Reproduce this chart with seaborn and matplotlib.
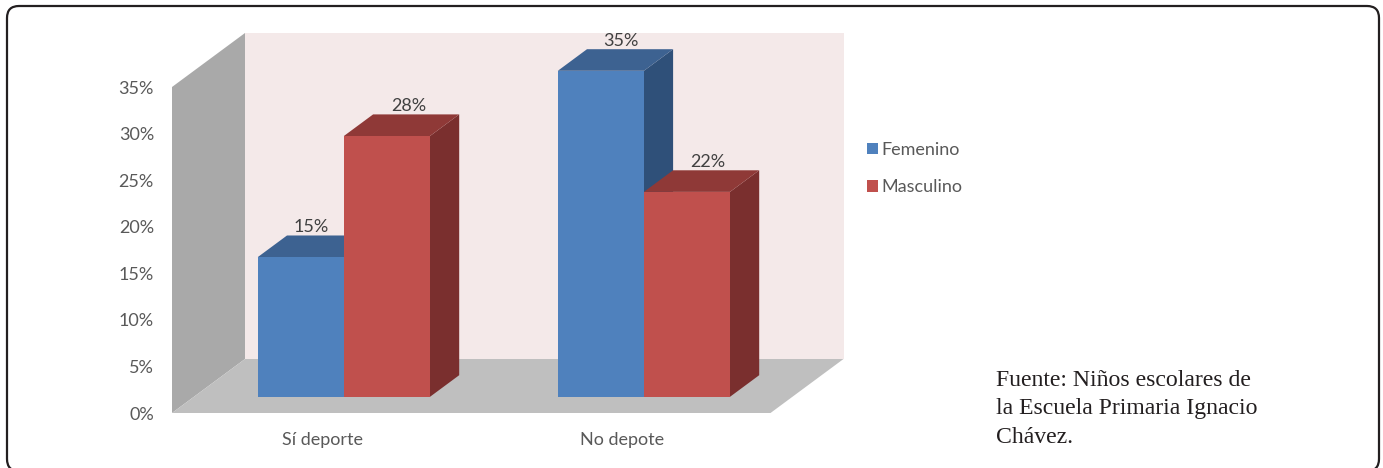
import matplotlib
matplotlib.use("Agg")
import matplotlib.pyplot as plt
from matplotlib.patches import FancyBboxPatch
import pandas as pd
import seaborn as sns

categories = ["Sí deporte", "No depote"]
femenino = [15, 35]
masculino = [28, 22]
y_ticks = [0, 5, 10, 15, 20, 25, 30, 35]
source_note = "Fuente: Niños escolares de\nla Escuela Primaria Ignacio\nChávez."

sns.set_theme(style="white")
plt.rcParams["font.family"] = ["Lato", "DejaVu Sans"]

W, H = 1383, 468
TEXT = "#595959"
FRONT = {"Femenino": "#4F81BD", "Masculino": "#C0504D"}
TOP = {"Femenino": "#3D6291", "Masculino": "#8F3937"}
SIDE = {"Femenino": "#2F5079", "Masculino": "#7A2F2E"}
# the labels were placed by hand in the original, pixels off the bar centre
NUDGE = {"Femenino": [-4, 5], "Masculino": [7, 6]}

df = pd.DataFrame({
    "categoria": categories * 2,
    "sexo": ["Femenino"] * 2 + ["Masculino"] * 2,
    "valor": femenino + masculino,
})

fig = plt.figure(figsize=(W / 100, H / 100), dpi=100)
ax = fig.add_axes([172 / W, (H - 413) / H, 600 / W, 326 / H])

sns.barplot(data=df, x="categoria", y="valor", hue="sexo", palette=FRONT,
            width=0.574, gap=0, saturation=1, ax=ax, zorder=5, linewidth=0)

ax.set_xlim(-0.5, 1.5)
ax.set_ylim(0, 35)
ax.patch.set_visible(False)
sns.despine(ax=ax, left=True, bottom=True)

# depth of the fake 3d box in data units
x0, x1 = ax.get_xlim()
y0, y1 = ax.get_ylim()
dx = 73 / 600 * (x1 - x0)
dy = 54 / 326 * (y1 - y0)
x_end = x1 - 1.5 / 300  # box stops just short of the axes edge

ax.fill([x0, x0 + dx, x0 + dx, x0], [y0, y0 + dy, y1 + dy, y1],
        color="#A9A9A9", lw=0, clip_on=False, zorder=1)
ax.fill([x0 + dx, x_end + dx, x_end + dx, x0 + dx], [y0 + dy, y0 + dy, y1 + dy, y1 + dy],
        color="#F4E9E9", lw=0, clip_on=False, zorder=1)
ax.fill([x0, x_end, x_end + dx, x0 + dx], [y0, y0, y0 + dy, y0 + dy],
        color="#BFBFBF", lw=0, clip_on=False, zorder=1)

# bars sit 30% into the box and are 40% of it deep
off_x, off_y = 0.3 * dx, 0.3 * dy
bar_dx, bar_dy = 0.4 * dx, 0.4 * dy
for z, (name, container) in enumerate(zip(FRONT, ax.containers)):
    for i, bar in enumerate(container):
        bar.set_x(bar.get_x() + off_x)
        bar.set_y(bar.get_y() + off_y)
        bar.set_clip_on(False)
        l, r = bar.get_x(), bar.get_x() + bar.get_width()
        b, t = bar.get_y(), bar.get_y() + bar.get_height()
        ax.fill([r, r + bar_dx, r + bar_dx, r], [b, b + bar_dy, t + bar_dy, t],
                color=SIDE[name], lw=0, clip_on=False, zorder=2 + z)
        ax.fill([l, r, r + bar_dx, l + bar_dx], [t, t, t + bar_dy, t + bar_dy],
                color=TOP[name], lw=0, clip_on=False, zorder=2 + z)
        ax.annotate(f"{bar.get_height():.0f}%", ((l + r + bar_dx) / 2, t + bar_dy),
                    xytext=(NUDGE[name][i], 0), textcoords="offset pixels", ha="center", va="bottom",
                    fontsize=13, color="#404040", zorder=6, annotation_clip=False)

ax.set_yticks(y_ticks, [f"{v}%" for v in y_ticks])
ax.tick_params(axis="y", length=0, pad=13, labelsize=13, labelcolor=TEXT)
ax.tick_params(axis="x", length=0, pad=14, labelsize=13, labelcolor=TEXT)
ax.set_xlabel("")
ax.set_ylabel("")

handles, labels = ax.get_legend_handles_labels()
ax.legend(handles, labels, loc="center left", bbox_to_anchor=(867 / W, (H - 168.5) / H),
          bbox_transform=fig.transFigure, frameon=False, fontsize=13, labelcolor=TEXT,
          handlelength=0.62, handleheight=0.62, handletextpad=0.2, labelspacing=1.17,
          borderpad=0, borderaxespad=0)

fig.text(996 / W, (H - 370) / H, source_note, family="Liberation Serif", fontsize=17.1,
         color="#231F20", ha="left", va="top", linespacing=1.46)

fig.add_artist(FancyBboxPatch((7, -3), W - 11, H - 3, boxstyle="round,pad=0,rounding_size=12",
                              transform=None, fc="none", ec="#231F20", lw=1.6))

fig.savefig("out.png", dpi=100)
